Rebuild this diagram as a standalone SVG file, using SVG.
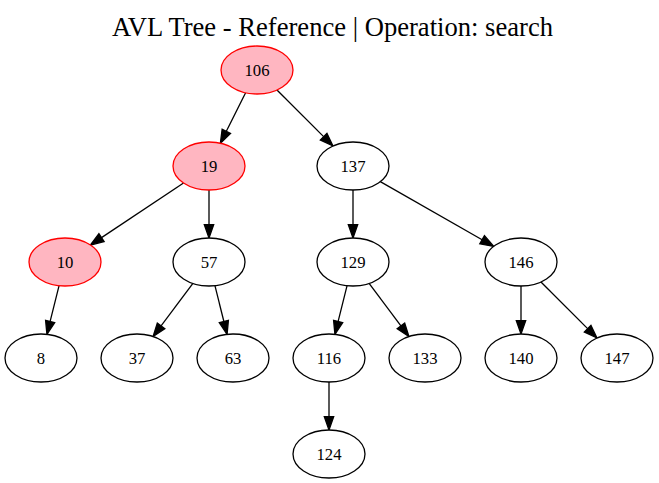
<svg xmlns="http://www.w3.org/2000/svg" width="659" height="483" viewBox="0 0 659 483">
<style>
  .n ellipse { fill: #ffffff; stroke: #000000; stroke-width: 1.3; }
  .n.hit ellipse { fill: #ffb6c1; stroke: #ff0000; }
  .n text { font-family: 'Liberation Serif', 'DejaVu Serif', serif; font-size: 16.7px; text-anchor: middle; fill: #000000; }
  .title { font-family: 'Liberation Serif', 'DejaVu Serif', serif; font-size: 26.6px; text-anchor: middle; fill: #000000; }
  #edges line { stroke: #000000; stroke-width: 1.3; }
  #edges polygon { fill: #000000; stroke: #000000; stroke-width: 1.3; }
</style>
<rect x="0" y="0" width="659" height="483" fill="#ffffff"/>
<text class="title" x="332.5" y="36" font-family="Liberation Serif, DejaVu Serif, serif">AVL Tree - Reference | Operation: search</text>
<g id="edges">
  <line x1="245.62" y1="92.77" x2="226.33" y2="131.33"/>
  <polygon points="220.38,143.23 230.53,133.43 222.13,129.23"/>
  <line x1="276.97" y1="89.97" x2="323.63" y2="136.63"/>
  <polygon points="333.03,146.03 320.31,139.95 326.95,133.31"/>
  <line x1="183.54" y1="182.97" x2="101.53" y2="237.65"/>
  <polygon points="90.46,245.03 104.14,241.56 98.92,233.74"/>
  <line x1="209" y1="190" x2="209" y2="224.7"/>
  <polygon points="209,238 213.7,224.7 204.3,224.7"/>
  <line x1="353" y1="190" x2="353" y2="224.7"/>
  <polygon points="353,238 357.7,224.7 348.3,224.7"/>
  <line x1="380.33" y1="181.62" x2="482.12" y2="239.78"/>
  <polygon points="493.67,246.38 479.79,243.86 484.45,235.70"/>
  <line x1="59.08" y1="285.67" x2="50.15" y2="321.43"/>
  <polygon points="46.92,334.33 54.71,322.57 45.59,320.29"/>
  <line x1="192.90" y1="283.47" x2="161.08" y2="325.89"/>
  <polygon points="153.10,336.53 164.84,328.71 157.32,323.07"/>
  <line x1="214.92" y1="285.67" x2="223.85" y2="321.43"/>
  <polygon points="227.08,334.33 219.29,322.57 228.41,320.29"/>
  <line x1="347.08" y1="285.67" x2="338.15" y2="321.43"/>
  <polygon points="334.92,334.33 342.71,322.57 333.59,320.29"/>
  <line x1="369.10" y1="283.47" x2="400.92" y2="325.89"/>
  <polygon points="408.90,336.53 397.16,328.71 404.68,323.07"/>
  <line x1="521" y1="286" x2="521" y2="320.7"/>
  <polygon points="521,334 525.7,320.7 516.3,320.7"/>
  <line x1="540.97" y1="281.97" x2="587.63" y2="328.63"/>
  <polygon points="597.03,338.03 584.31,331.95 590.95,325.31"/>
  <line x1="329" y1="382" x2="329" y2="416.7"/>
  <polygon points="329,430 333.7,416.7 324.3,416.7"/>
</g>
<g id="n106" class="n hit"><ellipse cx="257" cy="70" rx="36" ry="24"/><text x="257" y="76">106</text></g>
<g id="n19" class="n hit"><ellipse cx="209" cy="166" rx="36" ry="24"/><text x="209" y="172">19</text></g>
<g id="n137" class="n"><ellipse cx="353" cy="166" rx="36" ry="24"/><text x="353" y="172">137</text></g>
<g id="n10" class="n hit"><ellipse cx="65" cy="262" rx="36" ry="24"/><text x="65" y="268">10</text></g>
<g id="n57" class="n"><ellipse cx="209" cy="262" rx="36" ry="24"/><text x="209" y="268">57</text></g>
<g id="n129" class="n"><ellipse cx="353" cy="262" rx="36" ry="24"/><text x="353" y="268">129</text></g>
<g id="n146" class="n"><ellipse cx="521" cy="262" rx="36" ry="24"/><text x="521" y="268">146</text></g>
<g id="n8" class="n"><ellipse cx="41" cy="358" rx="36" ry="24"/><text x="41" y="364">8</text></g>
<g id="n37" class="n"><ellipse cx="137" cy="358" rx="36" ry="24"/><text x="137" y="364">37</text></g>
<g id="n63" class="n"><ellipse cx="233" cy="358" rx="36" ry="24"/><text x="233" y="364">63</text></g>
<g id="n116" class="n"><ellipse cx="329" cy="358" rx="36" ry="24"/><text x="329" y="364">116</text></g>
<g id="n133" class="n"><ellipse cx="425" cy="358" rx="36" ry="24"/><text x="425" y="364">133</text></g>
<g id="n140" class="n"><ellipse cx="521" cy="358" rx="36" ry="24"/><text x="521" y="364">140</text></g>
<g id="n147" class="n"><ellipse cx="617" cy="358" rx="36" ry="24"/><text x="617" y="364">147</text></g>
<g id="n124" class="n"><ellipse cx="329" cy="454" rx="36" ry="24"/><text x="329" y="460">124</text></g>
</svg>
